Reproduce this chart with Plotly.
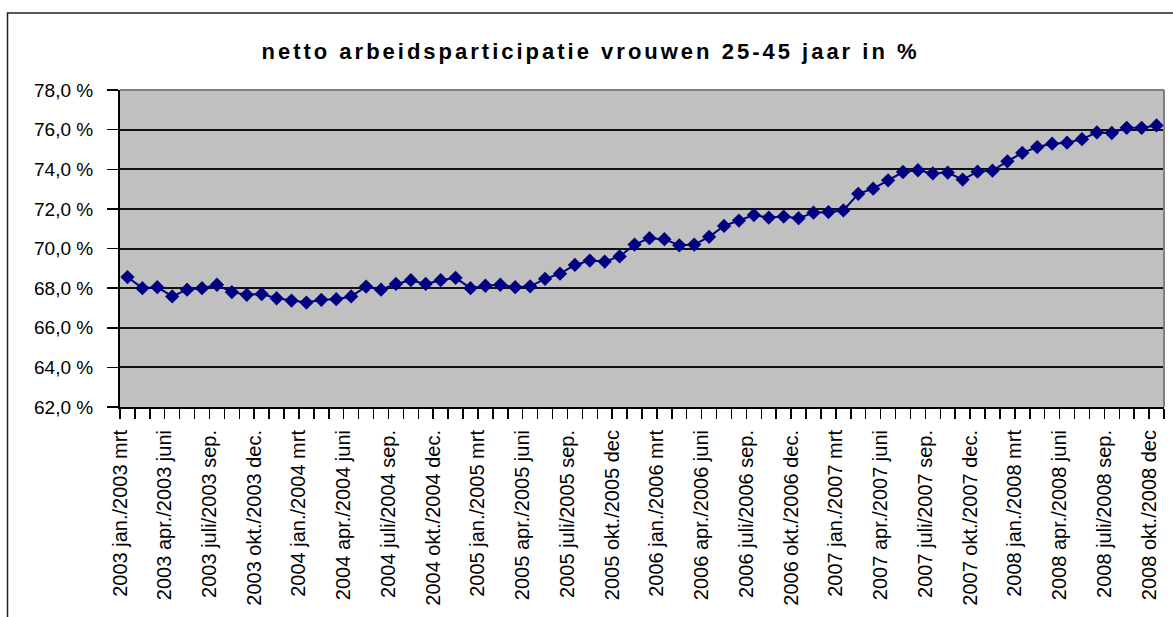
import plotly.graph_objects as go

# values: netto arbeidsparticipatie vrouwen 25-45 jaar (%), rolling quarters
values = [
    68.56, 68.00, 68.05, 67.58, 67.92, 68.00, 68.17, 67.80, 67.66, 67.70,
    67.49, 67.37, 67.27, 67.41, 67.44, 67.58, 68.08, 67.92,
    68.21, 68.40, 68.21, 68.40, 68.52, 68.00, 68.12, 68.17, 68.05, 68.09,
    68.47, 68.73, 69.17, 69.39, 69.34, 69.60, 70.20,
    70.52, 70.47, 70.16, 70.20, 70.59, 71.14, 71.41, 71.69, 71.56, 71.61,
    71.53, 71.81, 71.84, 71.92, 72.76, 73.02, 73.44, 73.86,
    73.95, 73.79, 73.83, 73.48, 73.88, 73.93, 74.40, 74.83, 75.12, 75.29,
    75.34, 75.52, 75.86, 75.83, 76.09, 76.09, 76.21,
]

tick_labels = [
    "2003 jan./2003 mrt", "2003 apr./2003 juni", "2003 juli/2003 sep.", "2003 okt./2003 dec.",
    "2004 jan./2004 mrt", "2004 apr./2004 juni", "2004 juli/2004 sep.", "2004 okt./2004 dec.",
    "2005 jan./2005 mrt", "2005 apr./2005 juni", "2005 juli/2005 sep.", "2005 okt./2005 dec",
    "2006 jan./2006 mrt", "2006 apr./2006 juni", "2006 juli/2006 sep.", "2006 okt./2006 dec.",
    "2007 jan./2007 mrt", "2007 apr./2007 juni", "2007 juli/2007 sep.", "2007 okt./2007 dec.",
    "2008 jan./2008 mrt", "2008 apr./2008 juni", "2008 juli/2008 sep.", "2008 okt./2008 dec",
]
label_step = 3

y_ticks = [62, 64, 66, 68, 70, 72, 74, 76, 78]
y_ticktext = [f"{v:.1f}".replace(".", ",") + " %" for v in y_ticks]

title = "netto arbeidsparticipatie vrouwen 25-45 jaar in %"

FONT = "Liberation Sans, Arial, sans-serif"
NAVY = "#000080"

x = list(range(len(values)))
x_tickvals = [i * label_step - 0.5 for i in range(len(tick_labels))]

fig = go.Figure()
fig.add_trace(go.Scatter(
    x=x, y=values, mode="lines+markers",
    line=dict(color=NAVY, width=2),
    marker=dict(symbol="diamond", size=11, color=NAVY),
    showlegend=False, hoverinfo="skip",
))

W, H = 1173, 617
L, R, T, B = 120, 9, 90, 210
pw, ph = W - L - R, H - T - B

def px_x(p):
    return (p - L) / pw

def px_y(p):
    return (H - B - p) / ph

fig.update_layout(
    width=W, height=H,
    margin=dict(l=L, r=R, t=T, b=B, pad=0, autoexpand=False),
    paper_bgcolor="white",
    plot_bgcolor="#C0C0C0",
    title=dict(
        text=f'<span style="letter-spacing:3px">{title}</span>',
        font=dict(family=FONT, size=22, color="black", weight="bold"),
        x=590.5 / W, xref="container", xanchor="center",
        y=1 - 51 / H, yref="container", yanchor="middle",
    ),
    xaxis=dict(
        range=[-0.5, len(values) - 0.5],
        tickmode="array", tickvals=x_tickvals, ticktext=tick_labels,
        tickangle=-90,
        tickfont=dict(family=FONT, size=20, color="black"),
        ticks="outside", ticklen=10, tickwidth=1.5, tickcolor="black",
        minor=dict(ticks="outside", dtick=1, tick0=-0.5, ticklen=10,
                   tickwidth=1.5, tickcolor="black", showgrid=False),
        showline=True, linecolor="black", linewidth=2,
        showgrid=False, zeroline=False, automargin=False,
        ticklabelstandoff=3,
    ),
    yaxis=dict(
        range=[62, 78],
        tickmode="array", tickvals=y_ticks, ticktext=y_ticktext,
        tickfont=dict(family=FONT, size=19, color="black"),
        ticks="outside", ticklen=11, tickwidth=1.5, tickcolor="black",
        showline=True, linecolor="black", linewidth=2,
        showgrid=True, gridcolor="#111111", gridwidth=2,
        zeroline=False, automargin=False,
        ticklabelstandoff=10,
    ),
    shapes=[
        # plot area top/right border
        dict(type="line", xref="paper", yref="paper", x0=0, x1=1, y0=1, y1=1,
             line=dict(color="#808080", width=2)),
        dict(type="line", xref="paper", yref="paper", x0=1, x1=1, y0=0, y1=1,
             line=dict(color="#808080", width=2)),
        # outer chart frame
        dict(type="rect", xref="paper", yref="paper",
             x0=px_x(7.5), x1=px_x(1200), y0=px_y(640), y1=px_y(13),
             line=dict(color="#222222", width=1.5), fillcolor="rgba(0,0,0,0)"),
    ],
)

fig.write_html(
    "out.html",
    config={"displayModeBar": False, "staticPlot": True},
    post_script="document.body.style.margin='0';document.body.style.overflow='hidden';",
)
